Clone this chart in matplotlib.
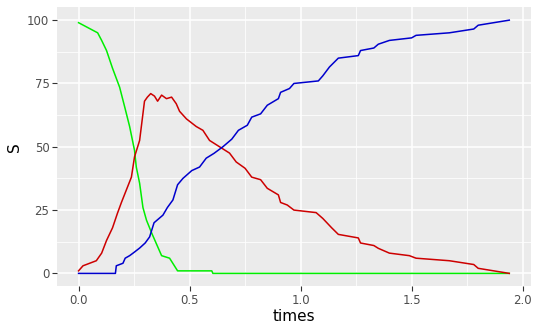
import matplotlib

matplotlib.use("Agg")
import matplotlib.pyplot as plt
from matplotlib.ticker import MultipleLocator

# S (susceptible)
s_times = [0, 0.086, 0.104, 0.126, 0.153, 0.185, 0.207, 0.23, 0.252, 0.26, 0.275, 0.29,
           0.306, 0.33, 0.35, 0.374, 0.41, 0.446, 0.6, 0.605, 1.94]
s_vals = [99, 95, 92, 88, 81, 73.5, 66, 58, 48.6, 42, 35.6, 26,
          21, 15.8, 11.8, 7, 6, 1, 1, 0, 0]

# I (infected)
i_times = [0, 0.02, 0.08, 0.104, 0.126, 0.153, 0.175, 0.193, 0.22, 0.238, 0.252, 0.275,
           0.297, 0.31, 0.325, 0.342, 0.356, 0.374, 0.396, 0.419, 0.44, 0.455, 0.486,
           0.53, 0.56, 0.59, 0.635, 0.68, 0.71, 0.75, 0.78, 0.82, 0.85, 0.9, 0.91, 0.94,
           0.97, 1.07, 1.1, 1.14, 1.17, 1.26, 1.27, 1.33, 1.35, 1.4, 1.49, 1.52, 1.67,
           1.78, 1.8, 1.94]
i_vals = [1, 3, 5, 8, 13, 18, 23.7, 28, 34, 38, 46, 52.5,
          68, 69.6, 71, 70, 68, 70.4, 69, 69.6, 67, 64, 61,
          58, 56.5, 52.5, 50, 47.5, 44, 41.5, 38, 37, 33.6, 31, 28, 27,
          25, 24, 21.7, 18, 15.4, 14, 12, 11, 9.9, 8, 7, 6, 5,
          3.5, 2, 0]

# R (recovered)
r_times = [0, 0.166, 0.17, 0.2, 0.21, 0.23, 0.25, 0.275, 0.3, 0.32, 0.34, 0.38, 0.4,
           0.425, 0.446, 0.47, 0.51, 0.545, 0.575, 0.61, 0.65, 0.69, 0.72, 0.76, 0.78,
           0.82, 0.85, 0.9, 0.91, 0.95, 0.97, 1.08, 1.1, 1.13, 1.17, 1.26, 1.27, 1.33,
           1.35, 1.4, 1.5, 1.52, 1.67, 1.78, 1.8, 1.94]
r_vals = [0, 0, 3, 4, 6, 7, 8.3, 10, 12, 14.4, 20, 23, 26,
          29, 35, 37.5, 40.6, 42, 45.5, 47.4, 50, 53, 56.5, 58.5, 61.7,
          63, 66.4, 69, 71.5, 73, 75, 76, 78, 81.5, 85, 86, 88, 89,
          90.5, 92, 93, 94, 95, 96.5, 98, 100]

fig = plt.figure(figsize=(5.4, 3.33), dpi=100)
ax = fig.add_axes([0.1056, 0.141, 0.8774, 0.8365])
ax.set_facecolor("#EBEBEB")
for sp in ax.spines.values():
    sp.set_visible(False)

ax.xaxis.set_major_locator(MultipleLocator(0.5))
ax.xaxis.set_minor_locator(MultipleLocator(0.25))
ax.yaxis.set_major_locator(MultipleLocator(25))
ax.yaxis.set_minor_locator(MultipleLocator(12.5))
ax.grid(which="major", color="white", linewidth=1.1)
ax.grid(which="minor", color="white", linewidth=0.55)
ax.set_axisbelow(True)
ax.tick_params(which="minor", length=0)
ax.tick_params(which="major", length=3.5, width=0.8, color="#333333",
               labelcolor="#4D4D4D", labelsize=8.5, pad=2)

ax.plot(s_times, s_vals, color="#00EE00", lw=1.1)
ax.plot(i_times, i_vals, color="#CD0000", lw=1.1)
ax.plot(r_times, r_vals, color="#0000CD", lw=1.1)

ax.set_xlim(-0.097, 2.037)
ax.set_ylim(-5, 105)
ax.set_xticks([0, 0.5, 1.0, 1.5, 2.0])
ax.set_xticklabels(["0.0", "0.5", "1.0", "1.5", "2.0"])
ax.set_xlabel("times", fontsize=11, labelpad=2)
ax.set_ylabel("S", fontsize=11, labelpad=4)

fig.savefig("out.png", dpi=100)
